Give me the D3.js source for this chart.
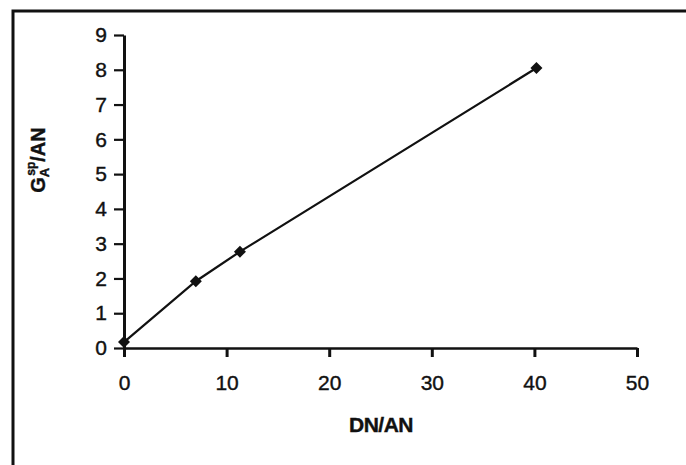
<!DOCTYPE html>
<html>
<head>
<meta charset="utf-8">
<script src="https://cdn.jsdelivr.net/npm/d3@7"></script>
<style>
  body { margin: 0; background: #fff; }
  svg { display: block; }
  text { font-family: "Liberation Sans", Arial, sans-serif; fill: #111; stroke: #111; stroke-width: 0.4px; }
</style>
</head>
<body>
<div id="svg"></div>
<script>
// data
var dnAn = [0, 7.0, 11.3, 40.2];
var gaAn = [0.17, 1.92, 2.77, 8.05];
var xTicks = [0, 10, 20, 30, 40, 50];
var yTicks = [0, 1, 2, 3, 4, 5, 6, 7, 8, 9];

var width = 686,
    height = 465;

var svg = d3.select("#svg").append("svg")
    .attr("width", width)
    .attr("height", height);

// scanned frame: only top and left edges show
svg.append("path")
    .attr("d", "M13,465 L13,11 L686,11")
    .attr("fill", "none")
    .attr("stroke", "#111")
    .attr("stroke-width", 3);

var x = d3.scaleLinear().domain([0, 50]).range([124, 637]);
var y = d3.scaleLinear().domain([0, 9]).range([348, 35]);

var xAxis = svg.append("g")
    .attr("transform", "translate(0," + y(0) + ")")
    .call(d3.axisBottom(x).tickValues(xTicks).tickSize(9).tickPadding(18).tickSizeOuter(0));
xAxis.select(".domain").attr("stroke-width", 2.4).attr("stroke", "#111");
xAxis.selectAll(".tick line").attr("stroke-width", 3).attr("stroke", "#111");
xAxis.selectAll(".tick text").style("font-size", "21px").attr("fill", "#111");

var yAxis = svg.append("g")
    .attr("transform", "translate(" + x(0) + ",0)")
    .call(d3.axisLeft(y).tickValues(yTicks).tickSize(10).tickPadding(7).tickSizeOuter(0));
yAxis.select(".domain").attr("stroke-width", 3).attr("stroke", "#111");
yAxis.selectAll(".tick line").attr("stroke-width", 2.2).attr("stroke", "#111");
yAxis.selectAll(".tick text").style("font-size", "21px").attr("fill", "#111");

var pts = dnAn.map(function (d, i) { return [d, gaAn[i]]; });

var line = d3.line()
    .x(function (d) { return x(d[0]); })
    .y(function (d) { return y(d[1]); });

svg.append("path")
    .datum(pts)
    .attr("d", line)
    .attr("fill", "none")
    .attr("stroke", "#111")
    .attr("stroke-width", 2.2);

svg.append("g")
    .selectAll("path")
    .data(pts)
    .enter().append("path")
    .attr("transform", function (d) { return "translate(" + x(d[0]) + "," + y(d[1]) + ") rotate(45)"; })
    .attr("d", d3.symbol().type(d3.symbolSquare).size(72))
    .attr("fill", "#111");

// axis titles
svg.append("text")
    .attr("x", 381)
    .attr("y", 432)
    .attr("text-anchor", "middle")
    .attr("font-weight", "bold")
    .style("font-size", "21px")
    .style("letter-spacing", "-0.5px")
    .text("DN/AN");

var yt = svg.append("text")
    .attr("transform", "translate(45,160) rotate(-90)")
    .attr("text-anchor", "middle")
    .attr("font-weight", "bold")
    .style("font-size", "20px");
yt.append("tspan").text("G");
yt.append("tspan").attr("dy", 4).style("font-size", "13px").text("A");
yt.append("tspan").attr("dx", -8).attr("dy", -14).style("font-size", "12px").text("sp");
yt.append("tspan").attr("dy", 10).text("/AN");
</script>
</body>
</html>
